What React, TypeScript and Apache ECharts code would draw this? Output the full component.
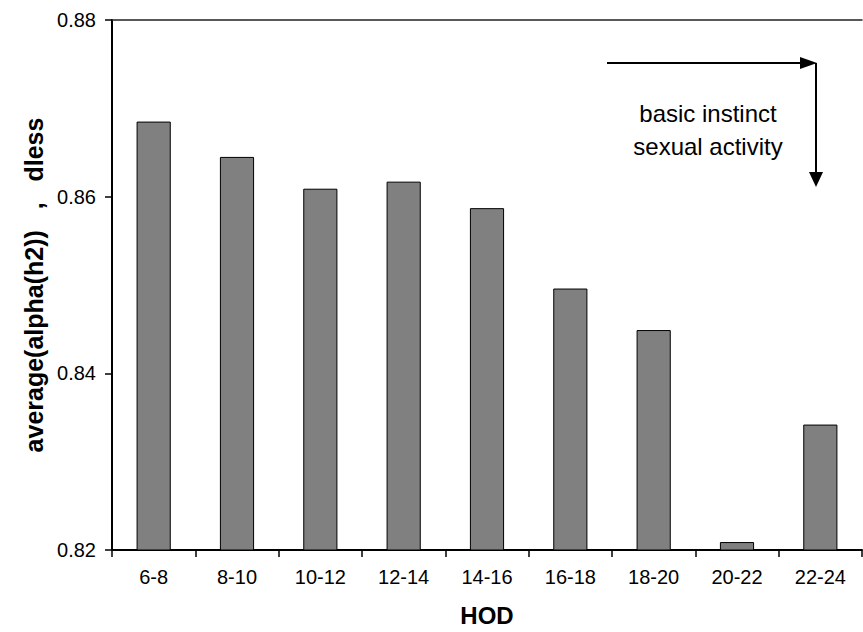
import React, { useEffect, useRef } from "react";
import * as echarts from "echarts";

const categories = ["6-8", "8-10", "10-12", "12-14", "14-16", "16-18", "18-20", "20-22", "22-24"];
const values = [0.8685, 0.8645, 0.8609, 0.8617, 0.8587, 0.8496, 0.8449, 0.8209, 0.8342];
const yMin = 0.82;
const yMax = 0.88;
const yStep = 0.02;
const annotationLines = ["basic instinct", "sexual activity"];

const FONT = "'Liberation Sans', Arial, sans-serif";

export default function App() {
  const ref = useRef<HTMLDivElement>(null);
  useEffect(() => {
    if (!ref.current) return;
    const chart = echarts.init(ref.current, null, { renderer: "svg" });
    chart.setOption({
      animation: false,
      backgroundColor: "#fff",
      grid: { left: 112, right: 1, top: 20, bottom: 77, containLabel: false },
      xAxis: [
        {
          type: "category",
          data: categories,
          position: "bottom",
          axisLine: { show: true, lineStyle: { color: "#000", width: 2 } },
          axisTick: { show: true, alignWithLabel: false, length: 7, lineStyle: { color: "#000", width: 1.5 } },
          axisLabel: { fontSize: 20, color: "#000", margin: 17, fontFamily: FONT },
          name: "HOD",
          nameLocation: "middle",
          nameGap: 53,
          nameTextStyle: { fontSize: 24, fontWeight: "bold", color: "#000", fontFamily: FONT },
        },
        {
          type: "category",
          data: categories,
          position: "top",
          axisLine: { show: true, lineStyle: { color: "#222", width: 1.5 } },
          axisTick: { show: false },
          axisLabel: { show: false },
        },
      ],
      yAxis: {
        type: "value",
        min: yMin,
        max: yMax,
        interval: yStep,
        axisLine: { show: true, lineStyle: { color: "#000", width: 2 } },
        axisTick: { show: true, length: 7, lineStyle: { color: "#000", width: 1.5 } },
        splitLine: { show: false },
        axisLabel: {
          fontSize: 20,
          color: "#000",
          margin: 16,
          fontFamily: FONT,
          formatter: (v: number) => v.toFixed(2),
        },
        name: "average(alpha(h2))   ,   dless",
        nameLocation: "middle",
        nameGap: 62,
        nameRotate: 90,
        nameTextStyle: { fontSize: 25, fontWeight: "bold", color: "#000", fontFamily: FONT },
      },
      series: [
        {
          type: "bar",
          xAxisIndex: 0,
          data: values,
          barWidth: "41%",
          itemStyle: { color: "#808080", borderColor: "#000", borderWidth: 1 },
        },
      ],
      graphic: [
        { type: "line", shape: { x1: 607, y1: 63, x2: 803, y2: 63 }, style: { stroke: "#000", lineWidth: 2 } },
        { type: "polygon", shape: { points: [[800, 57], [817, 63], [800, 69]] }, style: { fill: "#000" } },
        { type: "line", shape: { x1: 816, y1: 63, x2: 816, y2: 175 }, style: { stroke: "#000", lineWidth: 2 } },
        { type: "polygon", shape: { points: [[809, 172], [816, 187], [823, 172]] }, style: { fill: "#000" } },
        {
          type: "text",
          x: 708,
          y: 113,
          style: { text: annotationLines[0], fontSize: 24, fontFamily: FONT, fill: "#000", textAlign: "center", textVerticalAlign: "middle" },
        },
        {
          type: "text",
          x: 708,
          y: 146,
          style: { text: annotationLines[1], fontSize: 24, fontFamily: FONT, fill: "#000", textAlign: "center", textVerticalAlign: "middle" },
        },
      ],
    });
    return () => chart.dispose();
  }, []);
  return <div ref={ref} style={{ position: "absolute", left: 0, top: 0, width: 863, height: 632 }} />;
}
